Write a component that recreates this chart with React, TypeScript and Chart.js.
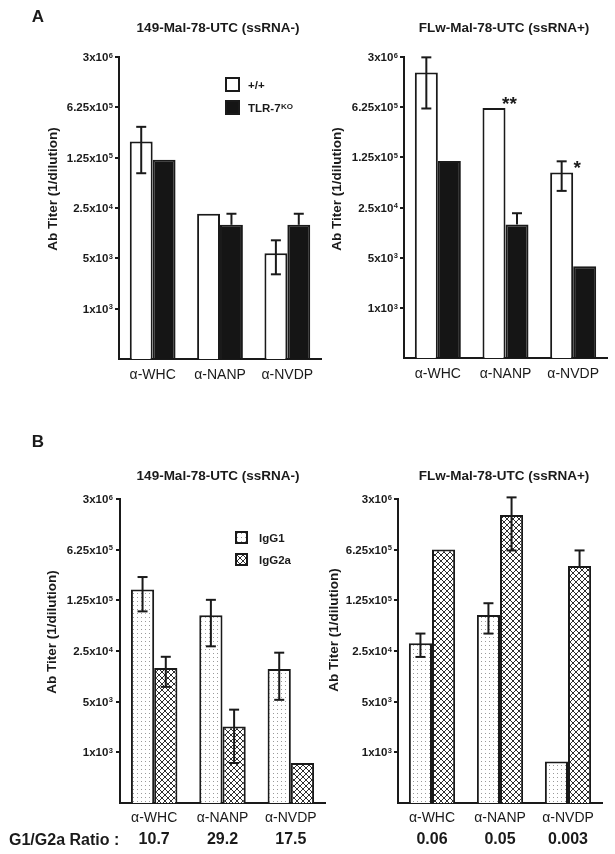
import React, { useEffect, useRef } from 'react';
import { Chart, registerables } from 'chart.js';

Chart.register(...registerables);

const FONT = '"Liberation Sans", Arial, Helvetica, sans-serif';
const INK = '#1a1a1a';

// ---------- data ----------
const CATEGORIES = ['α-WHC', 'α-NANP', 'α-NVDP'];
const TICK_VALUES = [1000, 5000, 25000, 125000, 625000, 3125000];
const TICK_MANTISSA = ['1x10', '5x10', '2.5x10', '1.25x10', '6.25x10', '3x10'];
const TICK_EXP = ['3', '3', '4', '5', '5', '6'];
const Y_MIN = 200;
const Y_MAX = 3125000;

// Panel A, 149-Mal-78-UTC (ssRNA-)
const A1_WT = [209000, 20800, 5900];
const A1_WT_HI = [335000, 20800, 8900];
const A1_WT_LO = [76000, 20800, 3000];
const A1_KO = [117000, 14600, 14600];
const A1_KO_HI = [117000, 20800, 20800];
const A1_KO_LO = [117000, 14600, 14600];

// Panel A, FLw-Mal-78-UTC (ssRNA+)
const A2_WT = [1895000, 607000, 77000];
const A2_WT_HI = [3090000, 607000, 110000];
const A2_WT_LO = [599000, 607000, 42600];
const A2_KO = [111000, 14500, 3800];
const A2_KO_HI = [111000, 20800, 3800];
const A2_KO_LO = [111000, 14500, 3800];
const A2_SIG = ['', '**', '*'];

// Panel B, 149-Mal-78-UTC (ssRNA-)
const B1_G1 = [177000, 78000, 14100];
const B1_G1_HI = [262000, 127000, 23700];
const B1_G1_LO = [88000, 29000, 5300];
const B1_G2 = [14600, 2280, 712];
const B1_G2_HI = [20800, 3880, 712];
const B1_G2_LO = [8000, 712, 712];
const B1_RATIO = ['10.7', '29.2', '17.5'];

// Panel B, FLw-Mal-78-UTC (ssRNA+)
const B2_G1 = [32000, 78500, 750];
const B2_G1_HI = [43500, 114000, 750];
const B2_G1_LO = [20700, 43500, 750];
const B2_G2 = [627000, 1880000, 372000];
const B2_G2_HI = [627000, 3290000, 610000];
const B2_G2_LO = [627000, 610000, 372000];
const B2_RATIO = ['0.06', '0.05', '0.003'];

const TITLE_NEG = '149-Mal-78-UTC (ssRNA-)';
const TITLE_POS = 'FLw-Mal-78-UTC (ssRNA+)';
const Y_TITLE = 'Ab Titer (1/dilution)';
const RATIO_LABEL = 'G1/G2a Ratio :';

type Fill = 'white' | 'black' | 'dots' | 'hatch';
type Series = { label: string; sup?: string; values: number[]; hi: number[]; lo: number[]; fill: Fill };
type Panel = {
  series: Series[];
  box: { left: number; top: number; width: number; height: number };
  area: { top: number; right: number; yWidth: number; xHeight: number };
  tickGap: number;
  titleX: number;
  titleY: number;
  xPad: number;
  legend?: { x: number; y: number; size: number; gap: number; textX: number };
  sig?: string[];
  ratio?: string[];
  ratioY?: number;
};

const PANELS: Panel[] = [
  {
    series: [
      { label: '+/+', values: A1_WT, hi: A1_WT_HI, lo: A1_WT_LO, fill: 'white' },
      { label: 'TLR-7', sup: 'KO', values: A1_KO, hi: A1_KO_HI, lo: A1_KO_LO, fill: 'black' },
    ],
    box: { left: 0, top: 0, width: 330, height: 420 },
    area: { top: 57, right: 9, yWidth: 119, xHeight: 61 },
    tickGap: 6,
    titleX: 53,
    titleY: 189,
    xPad: 8,
    legend: { x: 225, y: 77, size: 15, gap: 23, textX: 248 },
  },
  {
    series: [
      { label: '+/+', values: A2_WT, hi: A2_WT_HI, lo: A2_WT_LO, fill: 'white' },
      { label: 'TLR-7', sup: 'KO', values: A2_KO, hi: A2_KO_HI, lo: A2_KO_LO, fill: 'black' },
    ],
    box: { left: 300, top: 0, width: 315, height: 420 },
    area: { top: 57, right: 8, yWidth: 104, xHeight: 62 },
    tickGap: 6,
    titleX: 37,
    titleY: 189,
    xPad: 8,
    sig: A2_SIG,
  },
  {
    series: [
      { label: 'IgG1', values: B1_G1, hi: B1_G1_HI, lo: B1_G1_LO, fill: 'dots' },
      { label: 'IgG2a', values: B1_G2, hi: B1_G2_HI, lo: B1_G2_LO, fill: 'hatch' },
    ],
    box: { left: 0, top: 420, width: 330, height: 434 },
    area: { top: 79, right: 5, yWidth: 120, xHeight: 51 },
    tickGap: 7,
    titleX: 52,
    titleY: 212,
    xPad: 7,
    legend: { x: 235, y: 111, size: 13, gap: 22, textX: 259 },
    ratio: B1_RATIO,
    ratioY: 420,
  },
  {
    series: [
      { label: 'IgG1', values: B2_G1, hi: B2_G1_HI, lo: B2_G1_LO, fill: 'dots' },
      { label: 'IgG2a', values: B2_G2, hi: B2_G2_HI, lo: B2_G2_LO, fill: 'hatch' },
    ],
    box: { left: 300, top: 420, width: 315, height: 434 },
    area: { top: 79, right: 13, yWidth: 98, xHeight: 51 },
    tickGap: 6,
    titleX: 34,
    titleY: 210,
    xPad: 7,
    ratio: B2_RATIO,
    ratioY: 420,
  },
];

function makePatterns(ctx: CanvasRenderingContext2D) {
  const d = document.createElement('canvas');
  d.width = 4;
  d.height = 4;
  const dg = d.getContext('2d')!;
  dg.fillStyle = '#ffffff';
  dg.fillRect(0, 0, 4, 4);
  dg.fillStyle = '#9a9a9a';
  dg.fillRect(1, 1, 1, 1);

  const h = document.createElement('canvas');
  h.width = 6;
  h.height = 6;
  const hg = h.getContext('2d')!;
  hg.fillStyle = '#ffffff';
  hg.fillRect(0, 0, 6, 6);
  hg.strokeStyle = '#2e2e2e';
  hg.lineWidth = 1;
  hg.beginPath();
  hg.moveTo(0, 0);
  hg.lineTo(6, 6);
  hg.moveTo(6, 0);
  hg.lineTo(0, 6);
  hg.stroke();

  return {
    dots: ctx.createPattern(d, 'repeat')!,
    hatch: ctx.createPattern(h, 'repeat')!,
  };
}

function fillFor(f: Fill, pats: { dots: CanvasPattern; hatch: CanvasPattern }): any {
  if (f === 'white') return '#ffffff';
  if (f === 'black') return '#151515';
  if (f === 'dots') return pats.dots;
  return pats.hatch;
}

function drawSup(
  ctx: CanvasRenderingContext2D,
  base: string,
  sup: string,
  x: number,
  yMid: number,
  size: number,
  supSize: number,
  align: 'left' | 'right'
) {
  ctx.textAlign = 'left';
  ctx.textBaseline = 'alphabetic';
  ctx.font = `bold ${size}px ${FONT}`;
  const bw = ctx.measureText(base).width;
  ctx.font = `bold ${supSize}px ${FONT}`;
  const sw = ctx.measureText(sup).width;
  const start = align === 'left' ? x : x - bw - sw - 0.5;
  const baseline = yMid + size * 0.358;
  ctx.font = `bold ${size}px ${FONT}`;
  ctx.fillText(base, start, baseline);
  ctx.font = `bold ${supSize}px ${FONT}`;
  ctx.fillText(sup, start + bw + 0.5, baseline - size * 0.716 + supSize * 0.716 - 0.5);
}

function overlayPlugin(p: Panel, pats: { dots: CanvasPattern; hatch: CanvasPattern }) {
  return {
    id: 'overlay',
    afterDatasetsDraw(chart: any) {
      const ctx: CanvasRenderingContext2D = chart.ctx;
      const ys = chart.scales.y;
      const area = chart.chartArea;
      ctx.save();

      // error bars
      ctx.strokeStyle = INK;
      ctx.lineWidth = 2;
      p.series.forEach((s, di) => {
        const meta = chart.getDatasetMeta(di);
        meta.data.forEach((bar: any, i: number) => {
          const x = bar.x;
          const yh = ys.getPixelForValue(s.hi[i]);
          const yl = ys.getPixelForValue(s.lo[i]);
          if (Math.abs(yh - yl) > 0.5) {
            ctx.beginPath();
            ctx.moveTo(x, yh);
            ctx.lineTo(x, yl);
            ctx.stroke();
          }
          if (s.hi[i] !== s.values[i]) {
            ctx.beginPath();
            ctx.moveTo(x - 5, yh);
            ctx.lineTo(x + 5, yh);
            ctx.stroke();
          }
          if (s.lo[i] !== s.values[i]) {
            ctx.beginPath();
            ctx.moveTo(x - 5, yl);
            ctx.lineTo(x + 5, yl);
            ctx.stroke();
          }
        });
      });

      // significance marks
      if (p.sig) {
        const meta = chart.getDatasetMeta(0);
        ctx.fillStyle = INK;
        ctx.font = `bold 19px ${FONT}`;
        ctx.textAlign = 'center';
        ctx.textBaseline = 'alphabetic';
        p.sig.forEach((m, i) => {
          if (!m) return;
          const bar = meta.data[i];
          const top = ys.getPixelForValue(p.series[0].values[i]);
          ctx.fillText(m, bar.x + bar.width / 2 + 4, top + 2);
        });
      }

      // y tick labels
      ctx.fillStyle = INK;
      TICK_VALUES.forEach((v, k) => {
        const py = ys.getPixelForValue(v);
        drawSup(ctx, TICK_MANTISSA[k], TICK_EXP[k], area.left - p.tickGap, py, 11.5, 7.5, 'right');
      });

      // y title
      ctx.save();
      ctx.translate(p.titleX, p.titleY);
      ctx.rotate(-Math.PI / 2);
      ctx.font = `bold 13.5px ${FONT}`;
      ctx.textAlign = 'center';
      ctx.textBaseline = 'middle';
      ctx.fillText(Y_TITLE, 0, 0);
      ctx.restore();

      // legend
      if (p.legend) {
        const L = p.legend;
        p.series.forEach((s, i) => {
          const by = L.y + i * L.gap;
          ctx.fillStyle = fillFor(s.fill, pats);
          ctx.fillRect(L.x, by, L.size, L.size);
          ctx.strokeStyle = INK;
          ctx.lineWidth = 2;
          ctx.strokeRect(L.x + 1, by + 1, L.size - 2, L.size - 2);
          ctx.fillStyle = INK;
          const mid = by + L.size / 2;
          if (s.sup) {
            drawSup(ctx, s.label, s.sup, L.textX, mid, 11.5, 8, 'left');
          } else {
            ctx.font = `bold 11.5px ${FONT}`;
            ctx.textAlign = 'left';
            ctx.textBaseline = 'alphabetic';
            ctx.fillText(s.label, L.textX, mid + 11.5 * 0.358);
          }
        });
      }

      // ratio row
      if (p.ratio && p.ratioY !== undefined) {
        const xs = chart.scales.x;
        ctx.fillStyle = INK;
        ctx.font = `bold 16px ${FONT}`;
        ctx.textAlign = 'center';
        ctx.textBaseline = 'middle';
        p.ratio.forEach((r, i) => {
          ctx.fillText(r, xs.getPixelForValue(i), p.ratioY!);
        });
      }
      ctx.restore();
    },
  };
}

function PanelChart({ p }: { p: Panel }) {
  const ref = useRef<HTMLCanvasElement | null>(null);
  useEffect(() => {
    const canvas = ref.current!;
    const ctx = canvas.getContext('2d')!;
    const pats = makePatterns(ctx);
    const chart = new Chart(canvas, {
      type: 'bar',
      data: {
        labels: CATEGORIES,
        datasets: p.series.map((s) => ({
          label: s.label,
          data: s.values,
          backgroundColor: fillFor(s.fill, pats),
          borderColor: INK,
          borderWidth: 2,
          borderSkipped: 'bottom',
          categoryPercentage: 0.68,
          barPercentage: 1,
        })),
      },
      options: {
        animation: false,
        responsive: false,
        maintainAspectRatio: false,
        devicePixelRatio: 1,
        layout: { padding: { top: p.area.top, right: p.area.right, left: 0, bottom: 0 } },
        plugins: { legend: { display: false }, tooltip: { enabled: false }, title: { display: false } },
        scales: {
          x: {
            grid: { display: false, drawTicks: false },
            border: { display: true, color: INK, width: 2 },
            ticks: {
              color: INK,
              padding: p.xPad,
              font: { family: FONT, size: 14, weight: 'normal' },
              maxRotation: 0,
            },
            afterFit: (s: any) => {
              s.height = p.area.xHeight;
            },
          },
          y: {
            type: 'logarithmic',
            min: Y_MIN,
            max: Y_MAX,
            grid: { drawOnChartArea: false, drawTicks: true, tickLength: 4, color: INK, lineWidth: 2 },
            border: { display: true, color: INK, width: 2 },
            ticks: { display: false },
            afterBuildTicks: (s: any) => {
              s.ticks = TICK_VALUES.map((v) => ({ value: v }));
            },
            afterFit: (s: any) => {
              s.width = p.area.yWidth;
            },
          },
        },
      } as any,
      plugins: [overlayPlugin(p, pats)],
    });
    return () => chart.destroy();
  }, [p]);
  return (
    <canvas
      ref={ref}
      width={p.box.width}
      height={p.box.height}
      style={{
        position: 'absolute',
        left: p.box.left,
        top: p.box.top,
        width: p.box.width,
        height: p.box.height,
      }}
    />
  );
}

function Label({ text, x, y, size, weight = 'bold', align = 'center' }: any) {
  return (
    <div
      style={{
        position: 'absolute',
        left: x,
        top: y,
        transform: align === 'center' ? 'translate(-50%, -50%)' : 'translate(0, -50%)',
        fontFamily: FONT,
        fontSize: size,
        fontWeight: weight,
        lineHeight: 1,
        whiteSpace: 'nowrap',
        color: INK,
      }}
    >
      {text}
    </div>
  );
}

export default function App() {
  return (
    <div
      style={{
        position: 'absolute',
        left: 0,
        top: 0,
        width: 615,
        height: 854,
        background: '#ffffff',
        overflow: 'hidden',
      }}
    >
      {PANELS.map((p, i) => (
        <PanelChart key={i} p={p} />
      ))}
      <Label text="A" x={38} y={16} size={17} />
      <Label text="B" x={38} y={441} size={17} />
      <Label text={TITLE_NEG} x={218} y={28} size={13.5} />
      <Label text={TITLE_POS} x={504} y={28} size={13.5} />
      <Label text={TITLE_NEG} x={218} y={476} size={13.5} />
      <Label text={TITLE_POS} x={504} y={476} size={13.5} />
      <Label text={RATIO_LABEL} x={9} y={840} size={16} align="left" />
    </div>
  );
}
